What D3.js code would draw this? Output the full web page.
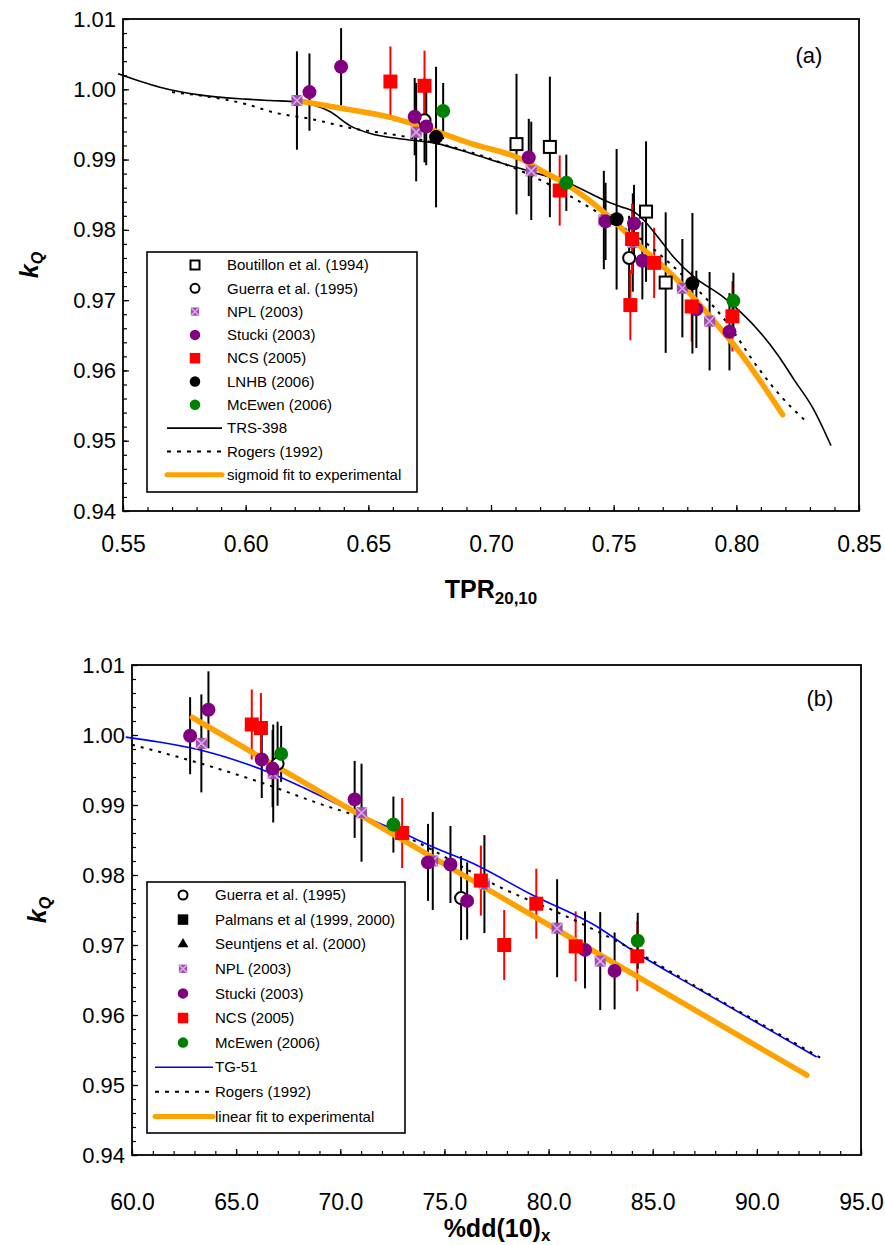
<!DOCTYPE html>
<html>
<head>
<meta charset="utf-8">
<script src="https://cdn.jsdelivr.net/npm/d3@7"></script>
<style>
  body { margin: 0; background: #fff; }
  svg { display: block; font-family: "Liberation Sans", Arial, sans-serif; }
</style>
</head>
<body>
<svg id="chart" width="885" height="1245"></svg>
<script>
// kQ against beam quality: (a) TPR20,10 and (b) %dd(10)x

// ---- tick labels ----
var tprTicks = [0.55, 0.60, 0.65, 0.70, 0.75, 0.80, 0.85];
var ddTicks = [60, 65, 70, 75, 80, 85, 90, 95];
var kqTicks = [0.94, 0.95, 0.96, 0.97, 0.98, 0.99, 1.00, 1.01];

// ---- panel (a) measured points ----
var boutillonTpr = [0.7104, 0.7240, 0.7632, 0.7712];
var boutillonKq = [0.9922, 0.9918, 0.9826, 0.9725];
var boutillonErr = [0.010, 0.010, 0.010, 0.010];

var guerraTpr = [0.6729, 0.7563];
var guerraKq = [0.9956, 0.9760];
var guerraErr = [0.006, 0.006];

var nplTpr = [0.6209, 0.6695, 0.7164, 0.7460, 0.7578, 0.7780, 0.7891];
var nplKq = [0.9984, 0.9939, 0.9884, 0.9814, 0.9782, 0.9717, 0.9670];
var nplErr = [0.007, 0.007, 0.007, 0.007, 0.007, 0.007, 0.007];

var stuckiTpr = [0.6260, 0.6389, 0.6689, 0.6736, 0.7154, 0.7467, 0.7583, 0.7617, 0.7837, 0.7972];
var stuckiKq = [0.9996, 1.0032, 0.9961, 0.9947, 0.9903, 0.9812, 0.9809, 0.9756, 0.9687, 0.9655];
var stuckiErr = [0.0055, 0.0055, 0.0055, 0.0055, 0.0055, 0.0055, 0.0055, 0.0055, 0.0055, 0.0055];

var ncsTpr = [0.6590, 0.6729, 0.7280, 0.7575, 0.7568, 0.7665, 0.7818, 0.7984];
var ncsKq = [1.0011, 1.0005, 0.9856, 0.9787, 0.9693, 0.9753, 0.9691, 0.9677];
var ncsErr = [0.005, 0.005, 0.005, 0.005, 0.005, 0.005, 0.005, 0.005];

var lnhbTpr = [0.6776, 0.7512, 0.7821];
var lnhbKq = [0.9932, 0.9815, 0.9724];
var lnhbErr = [0.010, 0.010, 0.010];

var mcewenTpr = [0.6805, 0.7307, 0.7988];
var mcewenKq = [0.9969, 0.9867, 0.9699];
var mcewenErr = [0.004, 0.004, 0.004];

// ---- panel (a) curves ----
var trsTpr = [0.548, 0.565, 0.581, 0.600, 0.610, 0.621, 0.6345, 0.6427, 0.6508, 0.6644, 0.6776, 0.6916,
  0.7052, 0.7161, 0.7312, 0.7476, 0.7529, 0.7582, 0.7622, 0.7680, 0.7745, 0.7827, 0.7937, 0.8018,
  0.8100, 0.8169, 0.8235, 0.8316, 0.8386];
var trsKq = [1.0022, 1.0003, 0.9992, 0.9986, 0.9984, 0.9982, 0.9968, 0.9948, 0.9937, 0.9929, 0.9923, 0.9909,
  0.9894, 0.9883, 0.9867, 0.9840, 0.9833, 0.9826, 0.9814, 0.9790, 0.9761, 0.9733, 0.9707, 0.9683,
  0.9653, 0.9622, 0.9587, 0.9544, 0.9493];

var rogersTpr = [0.570, 0.600, 0.6127, 0.6263, 0.6427, 0.6644, 0.6862, 0.7052, 0.7229, 0.7338, 0.7420,
  0.7651, 0.7773, 0.7964, 0.8086, 0.8182, 0.8277];
var rogersTprKq = [0.9996, 0.9979, 0.9966, 0.9958, 0.9945, 0.9933, 0.9916, 0.9894, 0.9866, 0.9845, 0.9828,
  0.9776, 0.9738, 0.9667, 0.9605, 0.9563, 0.9530];

var sigmoidTpr = [0.6209, 0.6372, 0.6590, 0.6740, 0.6916, 0.7134, 0.7202, 0.7311, 0.7474, 0.7610, 0.7746,
  0.7882, 0.8018, 0.8189];
var sigmoidKq = [0.9984, 0.9974, 0.9960, 0.99445, 0.9923, 0.9899, 0.9885, 0.9864, 0.9821, 0.9776, 0.97335,
  0.9681, 0.9624, 0.9537];

// ---- panel (b) measured points ----
var guerraDd = [66.99, 75.80];
var guerraDdKq = [0.9959, 0.9767];

var nplDd = [63.33, 66.78, 71.02, 74.44, 76.92, 80.41, 82.48];
var nplDdKq = [0.9988, 0.9945, 0.9889, 0.9820, 0.9787, 0.9724, 0.9677];

var stuckiDd = [62.79, 63.67, 66.23, 66.75, 70.69, 74.21, 75.29, 76.09, 81.75, 83.17];
var stuckiDdKq = [0.9999, 1.0036, 0.9965, 0.9952, 0.9908, 0.9818, 0.9815, 0.9763, 0.9693, 0.9663];

var ncsDd = [65.75, 66.19, 72.97, 76.75, 77.87, 79.41, 81.30, 84.26];
var ncsDdKq = [1.0015, 1.0010, 0.9860, 0.9792, 0.9700, 0.9759, 0.9698, 0.9684];

var mcewenDd = [67.16, 72.55, 84.28];
var mcewenDdKq = [0.9973, 0.9872, 0.9706];

// ---- panel (b) curves ----
var tg51Dd = [59.7, 61.3, 63.22, 66.11, 68.99, 70.91, 72.84, 74.76, 76.04, 79.25, 82.45, 83.89, 87.26, 92.87];
var tg51Kq = [0.9997, 0.9990, 0.9979, 0.9952, 0.9914, 0.9886, 0.9862, 0.9836, 0.9821, 0.9771, 0.9724,
  0.9695, 0.9636, 0.9540];

var rogersDd = [60.0, 61.30, 63.22, 66.11, 68.99, 70.91, 73.48, 77.64, 80.85, 84.05, 86.94, 93.11];
var rogersDdKq = [0.9986, 0.9976, 0.9960, 0.9933, 0.9902, 0.9883, 0.9850, 0.9783, 0.9741, 0.9693, 0.9643, 0.9538];

var linearDd = [62.9, 92.4];
var linearKq = [1.0025, 0.9514];

var svg = d3.select("#chart");
var font = '"Liberation Sans", Arial, sans-serif';
var orange = "#ffa200";

// Build one panel: scales, frame and tick marks
function makePanel(xDomain, xRange, yRange, xTickVals, xMinorStep, xFmt, xPad) {
    var x = d3.scaleLinear().domain(xDomain).range(xRange);
    var y = d3.scaleLinear().domain([0.94, 1.01]).range(yRange);
    var g = svg.append("g");

    var xMinor = d3.range(0, Math.round((xDomain[1] - xDomain[0]) / xMinorStep) + 1)
        .map(function(i) { return xDomain[0] + i * xMinorStep; });
    var yMinor = d3.range(0, 36).map(function(i) { return 0.94 + i * 0.002; });

    // minor ticks (inside)
    g.append("g").attr("class", "ax")
        .attr("transform", "translate(0," + yRange[0] + ")")
        .call(d3.axisBottom(x).tickValues(xMinor).tickSize(-4).tickFormat(""));
    g.append("g").attr("class", "ax")
        .attr("transform", "translate(" + xRange[0] + ",0)")
        .call(d3.axisLeft(y).tickValues(yMinor).tickSize(-4).tickFormat(""));

    // major ticks with labels
    var xa = g.append("g").attr("class", "ax")
        .attr("transform", "translate(0," + yRange[0] + ")")
        .call(d3.axisBottom(x).tickValues(xTickVals).tickSize(-6).tickPadding(xPad).tickFormat(xFmt));
    xa.selectAll("text").style("font-size", "23px");
    var ya = g.append("g").attr("class", "ax")
        .attr("transform", "translate(" + xRange[0] + ",0)")
        .call(d3.axisLeft(y).tickValues(kqTicks).tickSize(-6).tickPadding(7).tickFormat(d3.format(".2f")));
    ya.selectAll("text").style("font-size", "22px");

    g.selectAll(".ax .domain").remove();
    g.selectAll(".ax line").attr("stroke", "#000").attr("stroke-width", 1.2);
    g.selectAll(".ax text").attr("fill", "#000").style("font-family", font);

    g.append("rect")
        .attr("x", xRange[0]).attr("y", yRange[1])
        .attr("width", xRange[1] - xRange[0]).attr("height", yRange[0] - yRange[1])
        .attr("fill", "none").attr("stroke", "#000").attr("stroke-width", 1.8);

    return {g: g, x: x, y: y};
}

// Draw one marker symbol
function drawMarker(g, type, cx, cy, s) {
    if (type == "openSquare") {
        g.append("rect").attr("x", cx - 6 * s).attr("y", cy - 6 * s)
            .attr("width", 12 * s).attr("height", 12 * s)
            .attr("fill", "#fff").attr("stroke", "#000").attr("stroke-width", 2);
    } else if (type == "openCircle") {
        g.append("circle").attr("cx", cx).attr("cy", cy).attr("r", 6 * s)
            .attr("fill", "#fff").attr("stroke", "#000").attr("stroke-width", 2);
    } else if (type == "cross") {
        var h = 5.5 * s;
        g.append("rect").attr("x", cx - h).attr("y", cy - h)
            .attr("width", 2 * h).attr("height", 2 * h).attr("fill", "#a0509e");
        g.append("path")
            .attr("d", "M" + (cx - h) + "," + (cy - h) + "L" + (cx + h) + "," + (cy + h) +
                "M" + (cx + h) + "," + (cy - h) + "L" + (cx - h) + "," + (cy + h))
            .attr("stroke", "#d9a6f5").attr("stroke-width", 1.6);
    } else if (type == "square") {
        g.append("rect").attr("x", cx - 7 * s).attr("y", cy - 7 * s)
            .attr("width", 14 * s).attr("height", 14 * s).attr("fill", "#ff0000");
    } else if (type == "triangle") {
        g.append("path").attr("d", d3.symbol(d3.symbolTriangle, 90 * s * s)())
            .attr("transform", "translate(" + cx + "," + cy + ")").attr("fill", "#000");
    } else if (type == "blackSquare") {
        g.append("rect").attr("x", cx - 7 * s).attr("y", cy - 7 * s)
            .attr("width", 14 * s).attr("height", 14 * s).attr("fill", "#000");
    } else {
        g.append("circle").attr("cx", cx).attr("cy", cy).attr("r", 7 * s).attr("fill", type);
    }
}

// Draw error bars, curves and markers for a panel (Excel order: bars, lines, markers)
function drawSeries(p, points, curves) {
    points.forEach(function(sr) {
        for (let i = 0; i < sr.xs.length; i++) {
            p.g.append("line")
                .attr("x1", p.x(sr.xs[i])).attr("x2", p.x(sr.xs[i]))
                .attr("y1", p.y(sr.ys[i] - sr.err[i])).attr("y2", p.y(sr.ys[i] + sr.err[i]))
                .attr("stroke", sr.barColor).attr("stroke-width", 2);
        }
    });
    curves.forEach(function(c) {
        var line = d3.line().curve(d3.curveMonotoneX)
            .x(function(d) { return p.x(d[0]); })
            .y(function(d) { return p.y(d[1]); });
        p.g.append("path")
            .datum(d3.zip(c.xs, c.ys))
            .attr("d", line)
            .attr("fill", "none")
            .attr("stroke", c.color)
            .attr("stroke-width", c.width)
            .attr("stroke-linecap", c.cap || "butt")
            .attr("stroke-dasharray", c.dash || null);
    });
    points.forEach(function(sr) {
        for (let i = 0; i < sr.xs.length; i++) {
            drawMarker(p.g, sr.marker, p.x(sr.xs[i]), p.y(sr.ys[i]), 1);
        }
    });
}

// Legend box with marker rows and line rows
function drawLegend(box, rows, rowY, rowStep, markX, lineX0, lineX1, textX) {
    var g = svg.append("g");
    g.append("rect").attr("x", box[0]).attr("y", box[1])
        .attr("width", box[2] - box[0]).attr("height", box[3] - box[1])
        .attr("fill", "#fff").attr("stroke", "#000").attr("stroke-width", 1.6);
    rows.forEach(function(r, i) {
        var yy = rowY + i * rowStep;
        if (r.marker) {
            drawMarker(g, r.marker, markX, yy, 0.75);
        } else {
            g.append("line").attr("x1", lineX0).attr("x2", lineX1).attr("y1", yy).attr("y2", yy)
                .attr("stroke", r.color).attr("stroke-width", r.width)
                .attr("stroke-linecap", r.cap || "butt")
                .attr("stroke-dasharray", r.dash || null);
        }
        g.append("text").attr("x", textX).attr("y", yy).attr("dy", "0.35em")
            .text(r.label)
            .style("font-size", "15px").style("font-family", font).attr("fill", "#000");
    });
}

// ================= panel (a) =================
var pa = makePanel([0.55, 0.85], [123, 859], [511, 19], tprTicks, 0.01, d3.format(".2f"), 25);

drawSeries(pa, [
    {xs: boutillonTpr, ys: boutillonKq, err: boutillonErr, marker: "openSquare", barColor: "#000"},
    {xs: guerraTpr, ys: guerraKq, err: guerraErr, marker: "openCircle", barColor: "#000"},
    {xs: nplTpr, ys: nplKq, err: nplErr, marker: "cross", barColor: "#000"},
    {xs: stuckiTpr, ys: stuckiKq, err: stuckiErr, marker: "#800080", barColor: "#000"},
    {xs: ncsTpr, ys: ncsKq, err: ncsErr, marker: "square", barColor: "#ff0000"},
    {xs: lnhbTpr, ys: lnhbKq, err: lnhbErr, marker: "#000000", barColor: "#000"},
    {xs: mcewenTpr, ys: mcewenKq, err: mcewenErr, marker: "#008000", barColor: "#000"}
], [
    {xs: trsTpr, ys: trsKq, color: "#000", width: 1.6},
    {xs: rogersTpr, ys: rogersTprKq, color: "#000", width: 2, dash: "3,6"},
    {xs: sigmoidTpr, ys: sigmoidKq, color: orange, width: 5.5, cap: "round"}
]);

drawLegend([147, 252, 417, 492], [
    {marker: "openSquare", label: "Boutillon et al. (1994)"},
    {marker: "openCircle", label: "Guerra et al. (1995)"},
    {marker: "cross", label: "NPL (2003)"},
    {marker: "#800080", label: "Stucki (2003)"},
    {marker: "square", label: "NCS (2005)"},
    {marker: "#000000", label: "LNHB (2006)"},
    {marker: "#008000", label: "McEwen (2006)"},
    {color: "#000", width: 1.6, label: "TRS-398"},
    {color: "#000", width: 2, dash: "4,6", label: "Rogers (1992)"},
    {color: orange, width: 5, cap: "round", label: "sigmoid fit to experimental"}
], 265, 23.3, 195, 167, 222, 227);

svg.append("text").attr("x", 809).attr("y", 55).attr("dy", "0.35em")
    .attr("text-anchor", "middle").style("font-size", "22px").style("font-family", font).text("(a)");

var ta = svg.append("text").attr("x", 491).attr("y", 598)
    .attr("text-anchor", "middle").style("font-size", "25px").style("font-weight", "bold")
    .style("font-family", font);
ta.append("tspan").text("TPR");
ta.append("tspan").attr("dy", 6).style("font-size", "17px").text("20,10");

var ka = svg.append("text").attr("transform", "translate(38,265) rotate(-90)")
    .attr("text-anchor", "middle").style("font-size", "25px").style("font-weight", "bold")
    .style("font-style", "italic").style("font-family", font);
ka.append("tspan").text("k");
ka.append("tspan").attr("dy", 5).style("font-size", "16px").text("Q");

// ================= panel (b) =================
var pb = makePanel([60, 95], [132, 861], [1155, 665], ddTicks, 1, d3.format(".1f"), 39);

drawSeries(pb, [
    {xs: guerraDd, ys: guerraDdKq, err: guerraErr, marker: "openCircle", barColor: "#000"},
    {xs: nplDd, ys: nplDdKq, err: nplErr, marker: "cross", barColor: "#000"},
    {xs: stuckiDd, ys: stuckiDdKq, err: stuckiErr, marker: "#800080", barColor: "#000"},
    {xs: ncsDd, ys: ncsDdKq, err: ncsErr, marker: "square", barColor: "#ff0000"},
    {xs: mcewenDd, ys: mcewenDdKq, err: mcewenErr, marker: "#008000", barColor: "#000"}
], [
    {xs: tg51Dd, ys: tg51Kq, color: "#0000ff", width: 1.6},
    {xs: rogersDd, ys: rogersDdKq, color: "#000", width: 2, dash: "3,6"},
    {xs: linearDd, ys: linearKq, color: orange, width: 5.5, cap: "round"}
]);

drawLegend([147, 882, 405, 1133], [
    {marker: "openCircle", label: "Guerra et al. (1995)"},
    {marker: "blackSquare", label: "Palmans et al (1999, 2000)"},
    {marker: "triangle", label: "Seuntjens et al. (2000)"},
    {marker: "cross", label: "NPL (2003)"},
    {marker: "#800080", label: "Stucki (2003)"},
    {marker: "square", label: "NCS (2005)"},
    {marker: "#008000", label: "McEwen (2006)"},
    {color: "#0000ff", width: 1.6, label: "TG-51"},
    {color: "#000", width: 2, dash: "4,6", label: "Rogers (1992)"},
    {color: orange, width: 5, cap: "round", label: "linear fit to experimental"}
], 895, 24.6, 183, 155, 213, 215);

svg.append("text").attr("x", 820).attr("y", 698).attr("dy", "0.35em")
    .attr("text-anchor", "middle").style("font-size", "22px").style("font-family", font).text("(b)");

var tb = svg.append("text").attr("x", 497).attr("y", 1237)
    .attr("text-anchor", "middle").style("font-size", "25px").style("font-weight", "bold")
    .style("font-family", font);
tb.append("tspan").text("%dd(10)");
tb.append("tspan").attr("dy", 4).style("font-size", "17px").text("x");

var kb = svg.append("text").attr("transform", "translate(46,910) rotate(-90)")
    .attr("text-anchor", "middle").style("font-size", "25px").style("font-weight", "bold")
    .style("font-style", "italic").style("font-family", font);
kb.append("tspan").text("k");
kb.append("tspan").attr("dy", 5).style("font-size", "16px").text("Q");
</script>
</body>
</html>
